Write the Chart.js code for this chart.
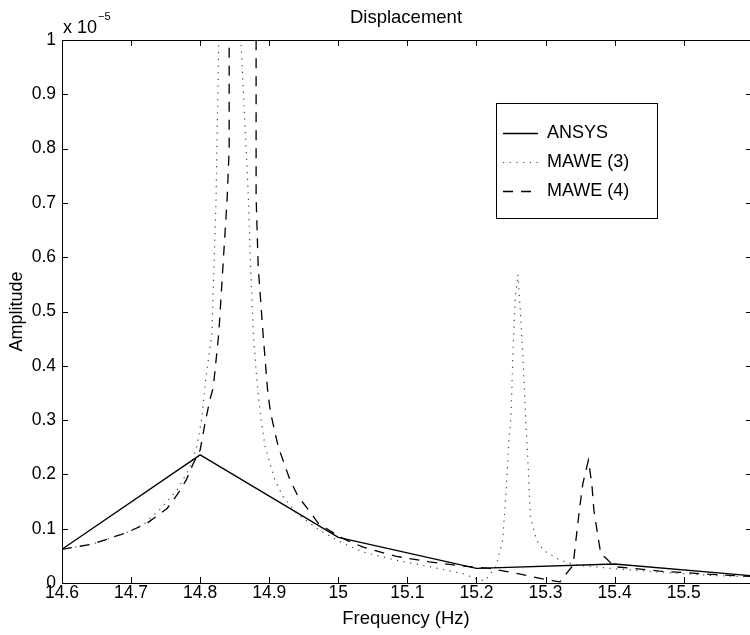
<!DOCTYPE html>
<html>
<head>
<meta charset="utf-8">
<title>Displacement</title>
<script src="https://cdn.jsdelivr.net/npm/chart.js@4/dist/chart.umd.min.js"></script>
<style>
  html, body { margin: 0; padding: 0; background: #fff; }
  #wrap { width: 750px; height: 635px; }
</style>
</head>
<body>
<div id="wrap"><canvas id="chart" width="750" height="635"></canvas></div>
<script>
'use strict';

/* ---- data (amplitude in units of 1e-5) ---- */
var ansysFreq = [14.6, 14.8, 15.0, 15.2, 15.4, 15.6];
var ansysAmp  = [0.062, 0.236, 0.084, 0.027, 0.035, 0.013];

var mawe3Freq = [14.600, 14.645, 14.694, 14.720, 14.742, 14.766, 14.785, 14.795, 14.802, 14.808,
                 14.817, 14.820, 14.823, 14.827, 14.843, 14.859, 14.870, 14.873, 14.877, 14.882,
                 14.887, 14.894, 14.908, 14.920, 14.940, 14.973, 15.007, 15.036, 15.084, 15.132,
                 15.181, 15.199, 15.212, 15.228, 15.238, 15.243, 15.247, 15.250, 15.253, 15.256,
                 15.260, 15.264, 15.268, 15.271, 15.275, 15.278, 15.287, 15.297, 15.321, 15.345,
                 15.393, 15.465, 15.538, 15.600];
var mawe3Amp  = [0.062, 0.072, 0.093, 0.110, 0.136, 0.170, 0.212, 0.250, 0.300, 0.374,
                 0.460, 0.583, 0.706, 1.000, 4.000, 1.000, 0.706, 0.583, 0.460, 0.374,
                 0.313, 0.251, 0.190, 0.159, 0.128, 0.097, 0.073, 0.057, 0.042, 0.030,
                 0.017, 0.008, 0.004, 0.030, 0.079, 0.171, 0.263, 0.306, 0.429, 0.522,
                 0.568, 0.491, 0.399, 0.306, 0.214, 0.122, 0.079, 0.060, 0.042, 0.033,
                 0.027, 0.020, 0.014, 0.011];

var mawe4Freq = [14.600, 14.645, 14.694, 14.723, 14.752, 14.768, 14.780, 14.790, 14.800, 14.807,
                 14.814, 14.819, 14.827, 14.833, 14.839, 14.842, 14.842, 14.862, 14.881, 14.881,
                 14.884, 14.891, 14.898, 14.902, 14.913, 14.930, 14.942, 14.961, 14.971, 15.002,
                 15.012, 15.036, 15.084, 15.132, 15.181, 15.219, 15.248, 15.272, 15.301, 15.321,
                 15.328, 15.340, 15.344, 15.349, 15.354, 15.362, 15.367, 15.370, 15.376, 15.380,
                 15.388, 15.400, 15.465, 15.538, 15.600];
var mawe4Amp  = [0.062, 0.072, 0.093, 0.110, 0.137, 0.165, 0.190, 0.220, 0.245, 0.294,
                 0.337, 0.360, 0.460, 0.583, 0.706, 0.800, 1.000, 4.000, 1.000, 0.712,
                 0.583, 0.460, 0.350, 0.313, 0.251, 0.190, 0.159, 0.128, 0.110, 0.085,
                 0.079, 0.066, 0.049, 0.039, 0.031, 0.027, 0.020, 0.014, 0.006, 0.002,
                 0.014, 0.033, 0.079, 0.134, 0.183, 0.226, 0.183, 0.134, 0.085, 0.054,
                 0.045, 0.030, 0.022, 0.016, 0.012];

var seriesNames = ['ANSYS', 'MAWE (3)', 'MAWE (4)'];
var xMin = 14.6, xMax = 15.596, xStep = 0.1;
var yMin = 0, yMax = 1, yStep = 0.1;

var FONT = '"Liberation Sans", Arial, Helvetica, sans-serif';

function pairs(xs, ys) {
  return xs.map(function (x, i) { return { x: x, y: ys[i] }; });
}
function fmt(v) { return String(Math.round(v * 10) / 10); }

/* ---- box, inward ticks, exponent, legend ---- */
var matlabFrame = {
  id: 'matlabFrame',
  afterDraw: function (chart) {
    var ctx = chart.ctx, a = chart.chartArea;
    var xs = chart.scales.x, ys = chart.scales.y;
    var tl = 6;
    ctx.save();
    ctx.strokeStyle = '#000';
    ctx.lineWidth = 1;
    ctx.beginPath();
    ctx.moveTo(a.left, a.top + 0.5); ctx.lineTo(a.right, a.top + 0.5);
    xs.ticks.forEach(function (t) {
      var px = Math.round(xs.getPixelForValue(t.value)) + 0.5;
      ctx.moveTo(px, a.bottom); ctx.lineTo(px, a.bottom - tl);
      ctx.moveTo(px, a.top); ctx.lineTo(px, a.top + tl);
    });
    ys.ticks.forEach(function (t) {
      var py = Math.round(ys.getPixelForValue(t.value)) + 0.5;
      ctx.moveTo(a.left, py); ctx.lineTo(a.left + tl, py);
      ctx.moveTo(a.right, py); ctx.lineTo(a.right - 4, py);
    });
    ctx.stroke();

    // exponent label
    ctx.fillStyle = '#000';
    ctx.textBaseline = 'alphabetic';
    ctx.textAlign = 'left';
    ctx.font = '18px ' + FONT;
    ctx.fillText('x 10', 63, 33);
    var w = ctx.measureText('x 10').width;
    ctx.font = '11px ' + FONT;
    ctx.fillText('\u22125', 63 + w + 1, 20);

    // legend box
    var lx = 496.5, ly = 103.5, lw = 161, lh = 115;
    ctx.fillStyle = '#fff';
    ctx.fillRect(lx, ly, lw, lh);
    ctx.strokeRect(lx, ly, lw, lh);
    ctx.font = '18px ' + FONT;
    ctx.textBaseline = 'middle';
    var rows = [133, 162, 191];
    chart.data.datasets.forEach(function (ds, i) {
      var y = rows[i] + 0.5;
      ctx.save();
      ctx.strokeStyle = ds.borderColor;
      ctx.lineWidth = ds.borderWidth;
      ctx.setLineDash(ds.legendDash || []);
      ctx.beginPath();
      ctx.moveTo(503, y); ctx.lineTo(538, y);
      ctx.stroke();
      ctx.restore();
      ctx.fillStyle = '#000';
      ctx.fillText(ds.label, 547, rows[i]);
    });
    ctx.restore();
  }
};

new Chart(document.getElementById('chart').getContext('2d'), {
  type: 'line',
  data: {
    datasets: [
      { label: seriesNames[0], data: pairs(ansysFreq, ansysAmp),
        borderColor: '#000', borderWidth: 1.3, borderDash: [], legendDash: [] },
      { label: seriesNames[1], data: pairs(mawe3Freq, mawe3Amp),
        borderColor: '#444', borderWidth: 1.2, borderDash: [1.2, 5.5], legendDash: [1.2, 5.5] },
      { label: seriesNames[2], data: pairs(mawe4Freq, mawe4Amp),
        borderColor: '#000', borderWidth: 1.3, borderDash: [10, 8], legendDash: [10, 8] }
    ]
  },
  options: {
    responsive: false,
    animation: false,
    devicePixelRatio: 1,
    layout: { padding: 0 },
    elements: { point: { radius: 0 }, line: { tension: 0 } },
    datasets: { line: { clip: 0, fill: false } },
    plugins: {
      legend: { display: false },
      tooltip: { enabled: false },
      title: {
        display: true, text: 'Displacement', color: '#000', fullSize: false,
        font: { family: FONT, size: 18.5, weight: 'normal', lineHeight: 1.2 },
        padding: { top: 7, bottom: 10.8 }
      }
    },
    scales: {
      x: {
        type: 'linear', min: xMin, max: xMax,
        grid: { display: false, drawTicks: false },
        border: { display: true, color: '#000', width: 1 },
        ticks: { stepSize: xStep, includeBounds: false, color: '#000', padding: 1,
                 maxRotation: 0, autoSkip: false,
                 font: { family: FONT, size: 17.5, lineHeight: 1 },
                 callback: function (v) { return fmt(v); } },
        title: { display: true, text: 'Frequency (Hz)', color: '#000',
                 font: { family: FONT, size: 18.5, lineHeight: 1.2 },
                 padding: { top: 0, bottom: 5 } },
        afterFit: function (s) { s.height = 52; }
      },
      y: {
        type: 'linear', min: yMin, max: yMax,
        grid: { display: false, drawTicks: false },
        border: { display: true, color: '#000', width: 1 },
        ticks: { stepSize: yStep, color: '#000', padding: 6,
                 font: { family: FONT, size: 17.5, lineHeight: 1 },
                 callback: function (v) { return fmt(v); } },
        title: { display: true, text: 'Amplitude', color: '#000',
                 font: { family: FONT, size: 18, lineHeight: 1.2 },
                 padding: { top: 6, bottom: 0 } },
        afterFit: function (s) { s.width = 62; }
      }
    }
  },
  plugins: [matlabFrame]
});
</script>
</body>
</html>
